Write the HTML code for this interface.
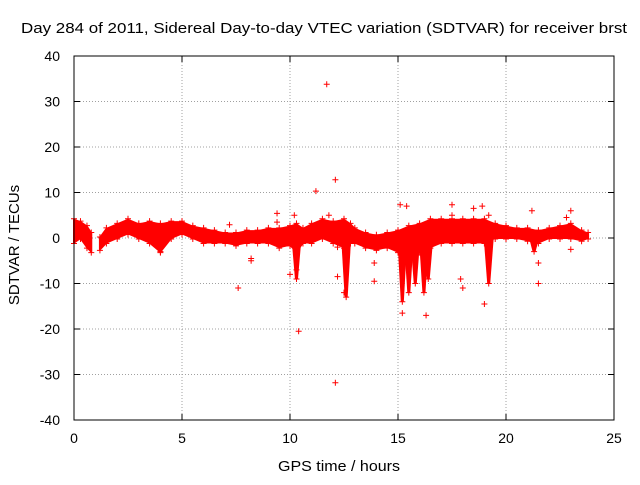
<!DOCTYPE html>
<html><head><meta charset="utf-8">
<style>
body{margin:0;background:#fff;}
svg text{font-family:"Liberation Sans",sans-serif;font-size:14px;fill:#000;}
</style></head>
<body>
<svg id="chart" width="640" height="480" xmlns="http://www.w3.org/2000/svg">
<rect width="640" height="480" fill="#fff"/>
<text x="324" y="33" text-anchor="middle" textLength="606" lengthAdjust="spacingAndGlyphs" style="font-size:15px">Day 284 of 2011, Sidereal Day-to-day VTEC variation (SDTVAR) for receiver brst</text>
<g id="grid"></g>
<g id="ticks"></g>
<g id="marks"></g>
<rect x="74" y="56" width="540" height="364" fill="none" stroke="#000" stroke-width="1"/>
<text x="339" y="471" text-anchor="middle" textLength="122" lengthAdjust="spacingAndGlyphs" style="font-size:15px">GPS time / hours</text>
<text x="0" y="0" text-anchor="middle" transform="translate(19,245) rotate(-90)" style="font-size:15px">SDTVAR / TECUs</text>
</svg>
<script>
const xTicks=[0,5,10,15,20,25];
const yTicks=[-40,-30,-20,-10,0,10,20,30,40];
// band segments: time, upper, lower
const bandT=[0,0.3,0.6,0.8];
const bandHi=[4,3.5,2.5,1];
const bandLo=[-1,0,-2,-3];
const band2T=[1.2,1.5,2,2.5,3,3.5,4,4.5,5,5.5,6,6.5,7,7.5,8,8.5,9,9.5,10,10.3,10.6,11,11.5,12,12.5,12.8,13,13.5,14,14.5,15,15.5,16,16.5,17,17.5,18,18.5,19,19.5,20,20.5,21,21.5,22,22.5,23,23.5,23.8];
const band2Hi=[0,2,3,4,3,3.5,3,3.5,3.5,2.5,2,1.5,1,1,1.5,1.5,2,2,2.5,3,2,3,4,3.5,4,3,2,1,0.5,1,1.5,2.5,3,4,4,4,4,4,4,3,2.5,2,2,1.5,2,2.5,3,1.5,1];
const band2Lo=[-2.5,-1,0,1,0,-1,-3,0,1,0,-1,-1,-1,-1.5,-1,-1,-1,-2,-1.5,-3,-1,-1,0,-1,-2,-1,-1,-2,-2.5,-2,-3,-4,-3,-2,-1,-1,-1,-1,-1,0,0,0,-0.5,-1,0,0,0,-0.5,0];
// downward streaks
const streakT=[12.6,15.2,15.5,15.8,16.2,16.4,19.2,10.3,21.3,4.0];
const streakV=[-13,-14,-12,-10,-12,-9,-10,-9,-3,-3];
// isolated points
const outT=[11.7,12.1,11.2,12.1,10.4,7.6,15.2,16.3,19.0,21.5,21.5,15.1,15.4,17.5,18.9,18.0,17.9,13.9,12.2,8.2,8.2,9.4,9.4,10.2,11.8,13.9,18.5,19.2,23.0,22.8,23.0,21.2,7.2,10.0,10.3,12.5,12.2,17.5];
const outV=[33.8,12.8,10.3,-31.8,-20.5,-11,-16.5,-17,-14.5,-10,-5.5,7.3,7,7.3,7,-11,-9,-9.5,-8.5,-4.5,-5,5.4,3.5,5,5,-5.5,6.5,5,6,4.5,-2.5,6,2.9,-8,-7,-12,-2,5];

const X0=74,X1=614,Y0=420,Y1=56;
const sx=t=>X0+(t-0)/(25-0)*(X1-X0);
const sy=v=>Y0-(v+40)/80*(Y0-Y1);
const NS="http://www.w3.org/2000/svg";
const mk=(tag,attrs,parent)=>{const e=document.createElementNS(NS,tag);for(const k in attrs)e.setAttribute(k,attrs[k]);parent.appendChild(e);return e;};
const grid=document.getElementById('grid'),ticks=document.getElementById('ticks'),marks=document.getElementById('marks');
xTicks.forEach(t=>{
  const x=sx(t);
  if(t>0&&t<25){const l=mk('line',{x1:x,x2:x,y1:Y1,y2:Y0,stroke:'#a0a0a0','stroke-dasharray':'1,2'},grid);
  
  }
  mk('line',{x1:x,x2:x,y1:Y0,y2:Y0-6,stroke:'#000'},ticks);
  mk('line',{x1:x,x2:x,y1:Y1,y2:Y1+6,stroke:'#000'},ticks);
  const tx=mk('text',{x:x,y:443,'text-anchor':'middle'},ticks);tx.textContent=t;
  
  
});
yTicks.forEach(v=>{
  const y=sy(v);
  if(v>-40&&v<40){const l=mk('line',{x1:X0,x2:X1,y1:y,y2:y,stroke:'#a0a0a0','stroke-dasharray':'1,2'},grid);
  
  }
  mk('line',{x1:X0,x2:X0+6,y1:y,y2:y,stroke:'#000'},ticks);
  mk('line',{x1:X1,x2:X1-6,y1:y,y2:y,stroke:'#000'},ticks);
  const tx=mk('text',{x:60,y:y+5,'text-anchor':'end'},ticks);tx.textContent=v;
  
  
});
function plus(x,y){
  const p=mk('path',{d:`M${x-3},${y}h6M${x},${y-3}v6`,stroke:'#f00','stroke-width':1},marks);
  
  
}
function drawBand(T,H,L){
  let d='M'+T.map((t,i)=>sx(t)+','+sy(H[i])).join('L');
  for(let i=T.length-1;i>=0;i--)d+='L'+sx(T[i])+','+sy(L[i]);
  d+='Z';
  const p=mk('path',{d:d,fill:'#f00',stroke:'#f00','stroke-width':2,'stroke-linejoin':'round'},marks);
  
  
  T.forEach((t,i)=>{plus(sx(t),sy(H[i])-1);plus(sx(t),sy(L[i])+1);});
}
drawBand(bandT,bandHi,bandLo);
drawBand(band2T,band2Hi,band2Lo);
streakT.forEach((t,i)=>{
  const x=sx(t),y0=sy(0),y1=sy(streakV[i]);
  const p=mk('path',{d:`M${x-5},${y0}L${x+5},${y0}L${x+1.5},${y1}L${x-1.5},${y1}Z`,fill:'#f00'},marks);
  
  
  plus(x,y1);
});
outT.forEach((t,i)=>plus(sx(t),sy(outV[i])));
</script>
</body></html>
